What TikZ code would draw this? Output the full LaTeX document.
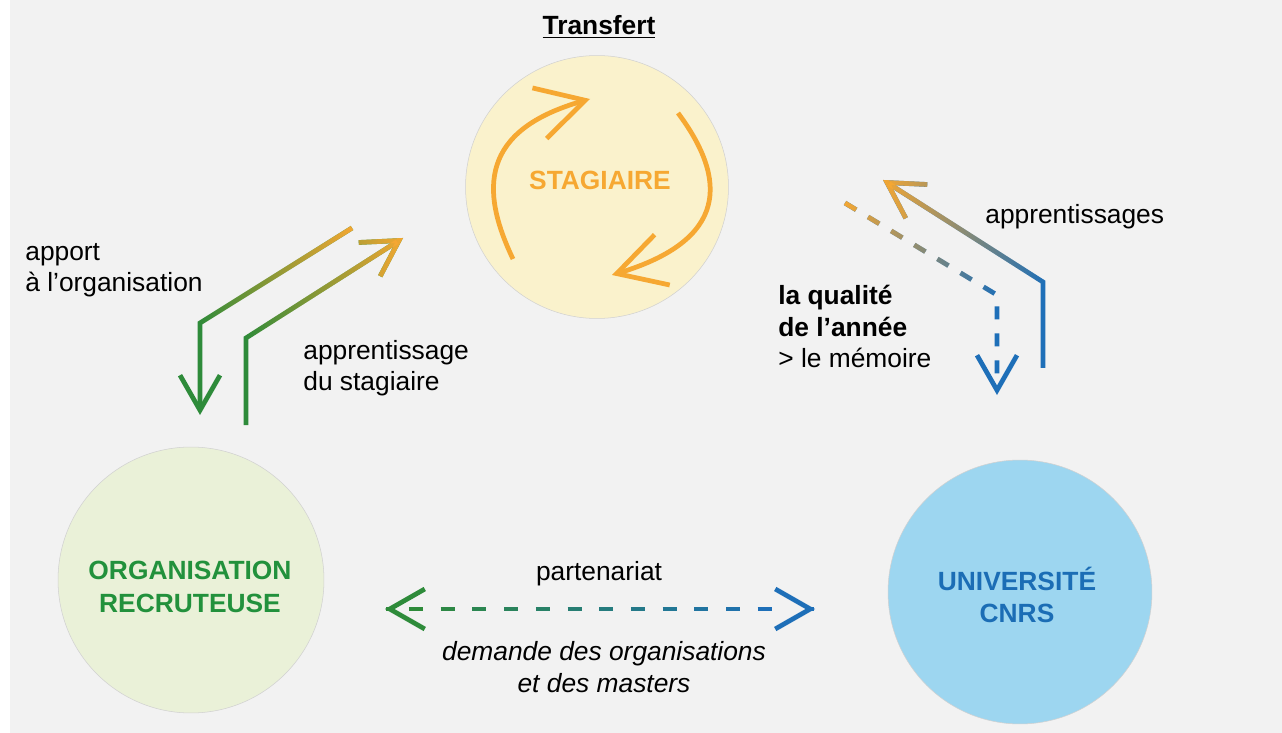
\documentclass[tikz,border=0pt]{standalone}
\usepackage{fontspec}
\setmainfont{Liberation Sans}
\usepackage{xcolor}
\usepackage{tikz}
\usetikzlibrary{arrows.meta, calc, fadings}

\definecolor{fond}{HTML}{F2F2F2}
\definecolor{orangeS}{HTML}{F6A832}
\definecolor{vertO}{HTML}{2E8B3A}
\definecolor{bleuU}{HTML}{1E6FB8}
\definecolor{jauneC}{HTML}{FAF2CC}
\definecolor{vertC}{HTML}{EAF1D8}
\definecolor{bleuC}{HTML}{9DD6F0}
\definecolor{vertT}{HTML}{22913C}
\definecolor{bleuT}{HTML}{1B6DB5}

\tikzfading[name=opaquedroite, left color=transparent!100, right color=transparent!0]
\tikzfading[name=opaquegauche, left color=transparent!0, right color=transparent!100]

\tikzset{
  rond/.style={circle, inner sep=0pt, draw=black!18, line width=0.3pt},
  trait/.style={line width=2.7pt},
  pointe/.style={-{Straight Barb[length=0.7cm, width=0.8cm]}},
  grandepointe/.style={-{Straight Barb[length=0.95cm, width=1.05cm]}},
  tirets/.style={dash pattern=on 0.26cm off 0.28cm},
  nom/.style={font=\fontsize{15}{18.5}\selectfont\bfseries, align=center},
  legende/.style={anchor=base west, align=left, inner sep=0pt},
}

\begin{document}
\begin{tikzpicture}[x=0.02cm, y=-0.02cm, font=\fontsize{15}{18}\selectfont]
    % Fond
    \fill[white] (0,0) rectangle (1282,733);
    \fill[fond] (10,0) rectangle (1282,733);
    \useasboundingbox (0,0) rectangle (1282,733);

    % Cercles
    \node[rond, fill=jauneC, minimum size=5.26cm] (stag) at (597,187) {};
    \node[rond, fill=vertC, minimum size=5.32cm] (orga) at (191,580) {};
    \node[rond, fill=bleuC, minimum size=5.28cm] (univ) at (1020,592) {};
    \node[nom, text=orangeS] (stagtxt) at (600,180) {STAGIAIRE};
    \node[nom, text=vertT] (orgatxt) at (190,587) {ORGANISATION\\RECRUTEUSE};
    \node[nom, text=bleuT] (univtxt) at (1017,595) {UNIVERSITÉ\\CNRS};

    % Textes (base = dernière ligne)
    \node[anchor=base, font=\fontsize{15}{18}\selectfont\bfseries] (transfert) at (599,35) {\underline{Transfert}};
    \node[legende] (apport) at (25,292) {apport\\à l’organisation};
    \node[legende] (apprst) at (303,391) {apprentissage\\du stagiaire};
    \node[legende] (apprs) at (985,224) {apprentissages};
    \node[legende] (qualite) at (778,368) {\textbf{la qualité}\\\textbf{de l’année}\\> le mémoire};
    \node[anchor=base] (parten) at (599,580) {partenariat};
    \node[anchor=base, align=center, font=\fontsize{15}{18}\selectfont\itshape] (demande) at (604,692) {demande des organisations\\et des masters};

    % Points des flèches
    \coordinate (a1) at (352,228);
    \coordinate (a2) at (200,323);
    \coordinate (a3) at (200,415);
    \coordinate (b1) at (246,425);
    \coordinate (b2) at (246,338);
    \coordinate (b3) at (403,238);
    \coordinate (r1) at (1043,368);
    \coordinate (r2) at (1043,282);
    \coordinate (r3) at (883,180);
    \coordinate (d1) at (845,203);
    \coordinate (d2) at (997,295);
    \coordinate (d3) at (997,395);
    \coordinate (p1) at (385,609);
    \coordinate (p2) at (815,609);
    \coordinate (s1) at (513,259);
    \coordinate (s2) at (590,99);
    \coordinate (s3) at (678,113);
    \coordinate (s4) at (612,275);

    % Transfert autour du stagiaire
    \draw[trait, grandepointe, orangeS] (s1) .. controls (480,190) and (480,130) .. (s2);
    \draw[trait, grandepointe, orangeS] (s3) .. controls (728,180) and (728,240) .. (s4);

    % Organisation <-> stagiaire
    \draw[trait, pointe, vertO] (a1) -- (a2) -- (a3);
    \draw[trait, orangeS, path fading=opaquedroite] (a1) -- (a2);
    \draw[trait, pointe, vertO] (b1) -- (b2) -- (b3);
    \draw[trait, pointe, orangeS, path fading=opaquedroite] (b2) -- (b3);

    % Université <-> stagiaire
    \draw[trait, pointe, bleuU] (r1) -- (r2) -- (r3);
    \draw[trait, pointe, orangeS, path fading=opaquegauche] (r2) -- (r3);
    \draw[trait, tirets, pointe, bleuU] (d1) -- (d2) -- (d3);
    \draw[trait, tirets, orangeS, path fading=opaquegauche] (d1) -- (d2);

    % Partenariat
    \foreach \k in {0,...,11} {
        \pgfmathtruncatemacro{\t}{\k/11*100}
        \draw[trait, bleuU!\t!vertO] ($(p1)+(24+31.7*\k,0)$) -- ++(14,0);
    }
    \draw[trait, pointe, vertO] ($(p1)+(1,0)$) -- (p1);
    \draw[trait, pointe, bleuU] ($(p2)-(1,0)$) -- (p2);
\end{tikzpicture}
\end{document}
